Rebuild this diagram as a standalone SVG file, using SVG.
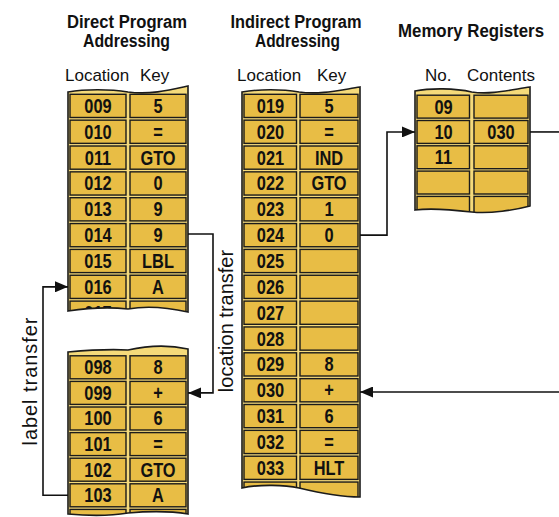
<svg xmlns="http://www.w3.org/2000/svg" width="559" height="517" viewBox="0 0 559 517">
<style>
.bg{fill:#F5DA7A;stroke:none}
.ol{fill:none;stroke:#1b1b1b;stroke-width:1.6}
.c{fill:#E8BD45;stroke:#1b1b1b;stroke-width:1.4}
.t{font-family:"Liberation Sans",Arial,sans-serif;font-size:20px;font-weight:bold;text-anchor:middle;fill:#111}
.h{font-family:"Liberation Sans",Arial,sans-serif;font-size:18px;font-weight:bold;text-anchor:middle;fill:#111}
.s{font-family:"Liberation Sans",Arial,sans-serif;font-size:17px;fill:#111}
.r{font-family:"Liberation Sans",Arial,sans-serif;font-size:20px;fill:#111;text-anchor:middle}
.cn{fill:none;stroke:#111;stroke-width:1.6}
</style>
<defs>
<marker id="arr" viewBox="0 0 13 11" refX="13" refY="5.5" markerWidth="13" markerHeight="11" markerUnits="userSpaceOnUse" orient="auto"><path d="M0,0 L13,5.5 L0,11 Z" fill="#111"/></marker>
<clipPath id="k1"><path d="M68,92 C85,89 110,89 128,92 C150,95 170,90 188,86 L188,312 C170,308 150,305 128,309 C110,307 88,308 68,311 Z"/></clipPath>
<clipPath id="k2"><path d="M68,352 C90,350 110,349 128,350 C150,345 170,345 188,349 L188,514 C170,511 150,511 128,513 C110,516 90,516 68,514 Z"/></clipPath>
<clipPath id="k3"><path d="M242,92 C259,89 282,89 299,92 C320,95 340,90 360,87 L360,497 C345,497 320,493 299,488 C285,485 260,484 242,488 Z"/></clipPath>
<clipPath id="k4"><path d="M415,91 C430,88 455,88 471.7,92 C490,95 510,90 530,87 L530,206 C515,210 490,214 471.7,212 C455,210 430,208 415,210 Z"/></clipPath>
</defs>

<text class="h" x="127" y="28" textLength="120" lengthAdjust="spacingAndGlyphs">Direct Program</text>
<text class="h" x="126.5" y="46.5" textLength="87" lengthAdjust="spacingAndGlyphs">Addressing</text>
<text class="h" x="296" y="28" textLength="131" lengthAdjust="spacingAndGlyphs">Indirect Program</text>
<text class="h" x="297.5" y="46.5" textLength="85" lengthAdjust="spacingAndGlyphs">Addressing</text>
<text class="h" x="471" y="37" textLength="146" lengthAdjust="spacingAndGlyphs">Memory Registers</text>
<text class="s" x="65" y="80.5">Location</text>
<text class="s" x="140" y="80.5">Key</text>
<text class="s" x="237" y="80.5">Location</text>
<text class="s" x="317" y="80.5">Key</text>
<text class="s" x="425" y="81">No.</text>
<text class="s" x="467" y="81">Contents</text>

<g id="direct-top">
<path class="bg" d="M68,92 C85,89 110,89 128,92 C150,95 170,90 188,86 L188,312 C170,308 150,305 128,309 C110,307 88,308 68,311 Z"/>
<g clip-path="url(#k1)">
<rect class="c" x="70" y="94.3" width="56" height="23.2"/><rect class="c" x="130" y="94.3" width="56" height="23.2"/>
<rect class="c" x="70" y="120.15" width="56" height="23.2"/><rect class="c" x="130" y="120.15" width="56" height="23.2"/>
<rect class="c" x="70" y="146" width="56" height="23.2"/><rect class="c" x="130" y="146" width="56" height="23.2"/>
<rect class="c" x="70" y="171.85" width="56" height="23.2"/><rect class="c" x="130" y="171.85" width="56" height="23.2"/>
<rect class="c" x="70" y="197.7" width="56" height="23.2"/><rect class="c" x="130" y="197.7" width="56" height="23.2"/>
<rect class="c" x="70" y="223.55" width="56" height="23.2"/><rect class="c" x="130" y="223.55" width="56" height="23.2"/>
<rect class="c" x="70" y="249.4" width="56" height="23.2"/><rect class="c" x="130" y="249.4" width="56" height="23.2"/>
<rect class="c" x="70" y="275.25" width="56" height="23.2"/><rect class="c" x="130" y="275.25" width="56" height="23.2"/>
<rect class="c" x="70" y="301.1" width="56" height="23.2"/><rect class="c" x="130" y="301.1" width="56" height="23.2"/>
<g transform="scale(0.82,1)">
<text class="t" x="119.51" y="112.9">009</text><text class="t" x="192.68" y="112.9">5</text>
<text class="t" x="119.51" y="138.75">010</text><text class="t" x="192.68" y="138.75">=</text>
<text class="t" x="119.51" y="164.6">011</text><text class="t" x="192.68" y="164.6">GTO</text>
<text class="t" x="119.51" y="190.45">012</text><text class="t" x="192.68" y="190.45">0</text>
<text class="t" x="119.51" y="216.3">013</text><text class="t" x="192.68" y="216.3">9</text>
<text class="t" x="119.51" y="242.15">014</text><text class="t" x="192.68" y="242.15">9</text>
<text class="t" x="119.51" y="268">015</text><text class="t" x="192.68" y="268">LBL</text>
<text class="t" x="119.51" y="293.85">016</text><text class="t" x="192.68" y="293.85">A</text>
<text class="t" x="119.51" y="319.7">017</text>
</g>
</g>
<path class="ol" d="M68,92 C85,89 110,89 128,92 C150,95 170,90 188,86 L188,312 C170,308 150,305 128,309 C110,307 88,308 68,311 Z"/>
</g>

<g id="direct-bottom">
<path class="bg" d="M68,352 C90,350 110,349 128,350 C150,345 170,345 188,349 L188,514 C170,511 150,511 128,513 C110,516 90,516 68,514 Z"/>
<g clip-path="url(#k2)">
<rect class="c" x="70" y="355.8" width="56" height="23"/><rect class="c" x="130" y="355.8" width="56" height="23"/>
<rect class="c" x="70" y="381.4" width="56" height="23"/><rect class="c" x="130" y="381.4" width="56" height="23"/>
<rect class="c" x="70" y="407" width="56" height="23"/><rect class="c" x="130" y="407" width="56" height="23"/>
<rect class="c" x="70" y="432.6" width="56" height="23"/><rect class="c" x="130" y="432.6" width="56" height="23"/>
<rect class="c" x="70" y="458.2" width="56" height="23"/><rect class="c" x="130" y="458.2" width="56" height="23"/>
<rect class="c" x="70" y="483.8" width="56" height="23"/><rect class="c" x="130" y="483.8" width="56" height="23"/>
<rect class="c" x="70" y="509.4" width="56" height="23"/><rect class="c" x="130" y="509.4" width="56" height="23"/>
<g transform="scale(0.82,1)">
<text class="t" x="119.51" y="374.3">098</text><text class="t" x="192.68" y="374.3">8</text>
<text class="t" x="119.51" y="399.9">099</text><text class="t" x="192.68" y="399.9">+</text>
<text class="t" x="119.51" y="425.5">100</text><text class="t" x="192.68" y="425.5">6</text>
<text class="t" x="119.51" y="451.1">101</text><text class="t" x="192.68" y="451.1">=</text>
<text class="t" x="119.51" y="476.7">102</text><text class="t" x="192.68" y="476.7">GTO</text>
<text class="t" x="119.51" y="502.3">103</text><text class="t" x="192.68" y="502.3">A</text>
</g>
</g>
<path class="ol" d="M68,352 C90,350 110,349 128,350 C150,345 170,345 188,349 L188,514 C170,511 150,511 128,513 C110,516 90,516 68,514 Z"/>
</g>

<g id="indirect">
<path class="bg" d="M242,92 C259,89 282,89 299,92 C320,95 340,90 360,87 L360,497 C345,497 320,493 299,488 C285,485 260,484 242,488 Z"/>
<g clip-path="url(#k3)">
<rect class="c" x="244" y="94.3" width="52.5" height="23.2"/><rect class="c" x="300" y="94.3" width="58" height="23.2"/>
<rect class="c" x="244" y="120.15" width="52.5" height="23.2"/><rect class="c" x="300" y="120.15" width="58" height="23.2"/>
<rect class="c" x="244" y="146" width="52.5" height="23.2"/><rect class="c" x="300" y="146" width="58" height="23.2"/>
<rect class="c" x="244" y="171.85" width="52.5" height="23.2"/><rect class="c" x="300" y="171.85" width="58" height="23.2"/>
<rect class="c" x="244" y="197.7" width="52.5" height="23.2"/><rect class="c" x="300" y="197.7" width="58" height="23.2"/>
<rect class="c" x="244" y="223.55" width="52.5" height="23.2"/><rect class="c" x="300" y="223.55" width="58" height="23.2"/>
<rect class="c" x="244" y="249.4" width="52.5" height="23.2"/><rect class="c" x="300" y="249.4" width="58" height="23.2"/>
<rect class="c" x="244" y="275.25" width="52.5" height="23.2"/><rect class="c" x="300" y="275.25" width="58" height="23.2"/>
<rect class="c" x="244" y="301.1" width="52.5" height="23.2"/><rect class="c" x="300" y="301.1" width="58" height="23.2"/>
<rect class="c" x="244" y="326.95" width="52.5" height="23.2"/><rect class="c" x="300" y="326.95" width="58" height="23.2"/>
<rect class="c" x="244" y="352.8" width="52.5" height="23.2"/><rect class="c" x="300" y="352.8" width="58" height="23.2"/>
<rect class="c" x="244" y="378.65" width="52.5" height="23.2"/><rect class="c" x="300" y="378.65" width="58" height="23.2"/>
<rect class="c" x="244" y="404.5" width="52.5" height="23.2"/><rect class="c" x="300" y="404.5" width="58" height="23.2"/>
<rect class="c" x="244" y="430.35" width="52.5" height="23.2"/><rect class="c" x="300" y="430.35" width="58" height="23.2"/>
<rect class="c" x="244" y="456.2" width="52.5" height="23.2"/><rect class="c" x="300" y="456.2" width="58" height="23.2"/>
<rect class="c" x="244" y="482.05" width="52.5" height="23.2"/><rect class="c" x="300" y="482.05" width="58" height="23.2"/>
<g transform="scale(0.82,1)">
<text class="t" x="329.88" y="112.9">019</text><text class="t" x="401.22" y="112.9">5</text>
<text class="t" x="329.88" y="138.75">020</text><text class="t" x="401.22" y="138.75">=</text>
<text class="t" x="329.88" y="164.6">021</text><text class="t" x="401.22" y="164.6">IND</text>
<text class="t" x="329.88" y="190.45">022</text><text class="t" x="401.22" y="190.45">GTO</text>
<text class="t" x="329.88" y="216.3">023</text><text class="t" x="401.22" y="216.3">1</text>
<text class="t" x="329.88" y="242.15">024</text><text class="t" x="401.22" y="242.15">0</text>
<text class="t" x="329.88" y="268">025</text>
<text class="t" x="329.88" y="293.85">026</text>
<text class="t" x="329.88" y="319.7">027</text>
<text class="t" x="329.88" y="345.55">028</text>
<text class="t" x="329.88" y="371.4">029</text><text class="t" x="401.22" y="371.4">8</text>
<text class="t" x="329.88" y="397.25">030</text><text class="t" x="401.22" y="397.25">+</text>
<text class="t" x="329.88" y="423.1">031</text><text class="t" x="401.22" y="423.1">6</text>
<text class="t" x="329.88" y="448.95">032</text><text class="t" x="401.22" y="448.95">=</text>
<text class="t" x="329.88" y="474.8">033</text><text class="t" x="401.22" y="474.8">HLT</text>
</g>
</g>
<path class="ol" d="M242,92 C259,89 282,89 299,92 C320,95 340,90 360,87 L360,497 C345,497 320,493 299,488 C285,485 260,484 242,488 Z"/>
</g>

<g id="memory">
<path class="bg" d="M415,91 C430,88 455,88 471.7,92 C490,95 510,90 530,87 L530,206 C515,210 490,214 471.7,212 C455,210 430,208 415,210 Z"/>
<g clip-path="url(#k4)">
<rect class="c" x="417" y="95.2" width="52.5" height="22.9"/><rect class="c" x="474" y="95.2" width="54" height="22.9"/>
<rect class="c" x="417" y="120.5" width="52.5" height="22.9"/><rect class="c" x="474" y="120.5" width="54" height="22.9"/>
<rect class="c" x="417" y="145.8" width="52.5" height="22.9"/><rect class="c" x="474" y="145.8" width="54" height="22.9"/>
<rect class="c" x="417" y="171.1" width="52.5" height="22.9"/><rect class="c" x="474" y="171.1" width="54" height="22.9"/>
<rect class="c" x="417" y="196.4" width="52.5" height="22.9"/><rect class="c" x="474" y="196.4" width="54" height="22.9"/>
<g transform="scale(0.82,1)">
<text class="t" x="540.85" y="113.65">09</text>
<text class="t" x="540.85" y="138.95">10</text><text class="t" x="610.98" y="138.95">030</text>
<text class="t" x="540.85" y="164.25">11</text>
</g>
</g>
<path class="ol" d="M415,91 C430,88 455,88 471.7,92 C490,95 510,90 530,87 L530,206 C515,210 490,214 471.7,212 C455,210 430,208 415,210 Z"/>
</g>

<g id="connectors">
<path class="cn" d="M188,234 H213 V392.9 H188" marker-end="url(#arr)"/>
<path class="cn" d="M68,495.3 H43 V286.85 H68" marker-end="url(#arr)"/>
<path class="cn" d="M360,235.15 H387 V131.95 H415" marker-end="url(#arr)"/>
<path class="cn" d="M530,131.95 H559"/>
<path class="cn" d="M559,392 H360" marker-end="url(#arr)"/>
<text class="r" transform="translate(233,321) rotate(-90)">location transfer</text>
<text class="r" transform="translate(36.5,381.5) rotate(-90)" textLength="128" lengthAdjust="spacing">label transfer</text>
</g>
</svg>
